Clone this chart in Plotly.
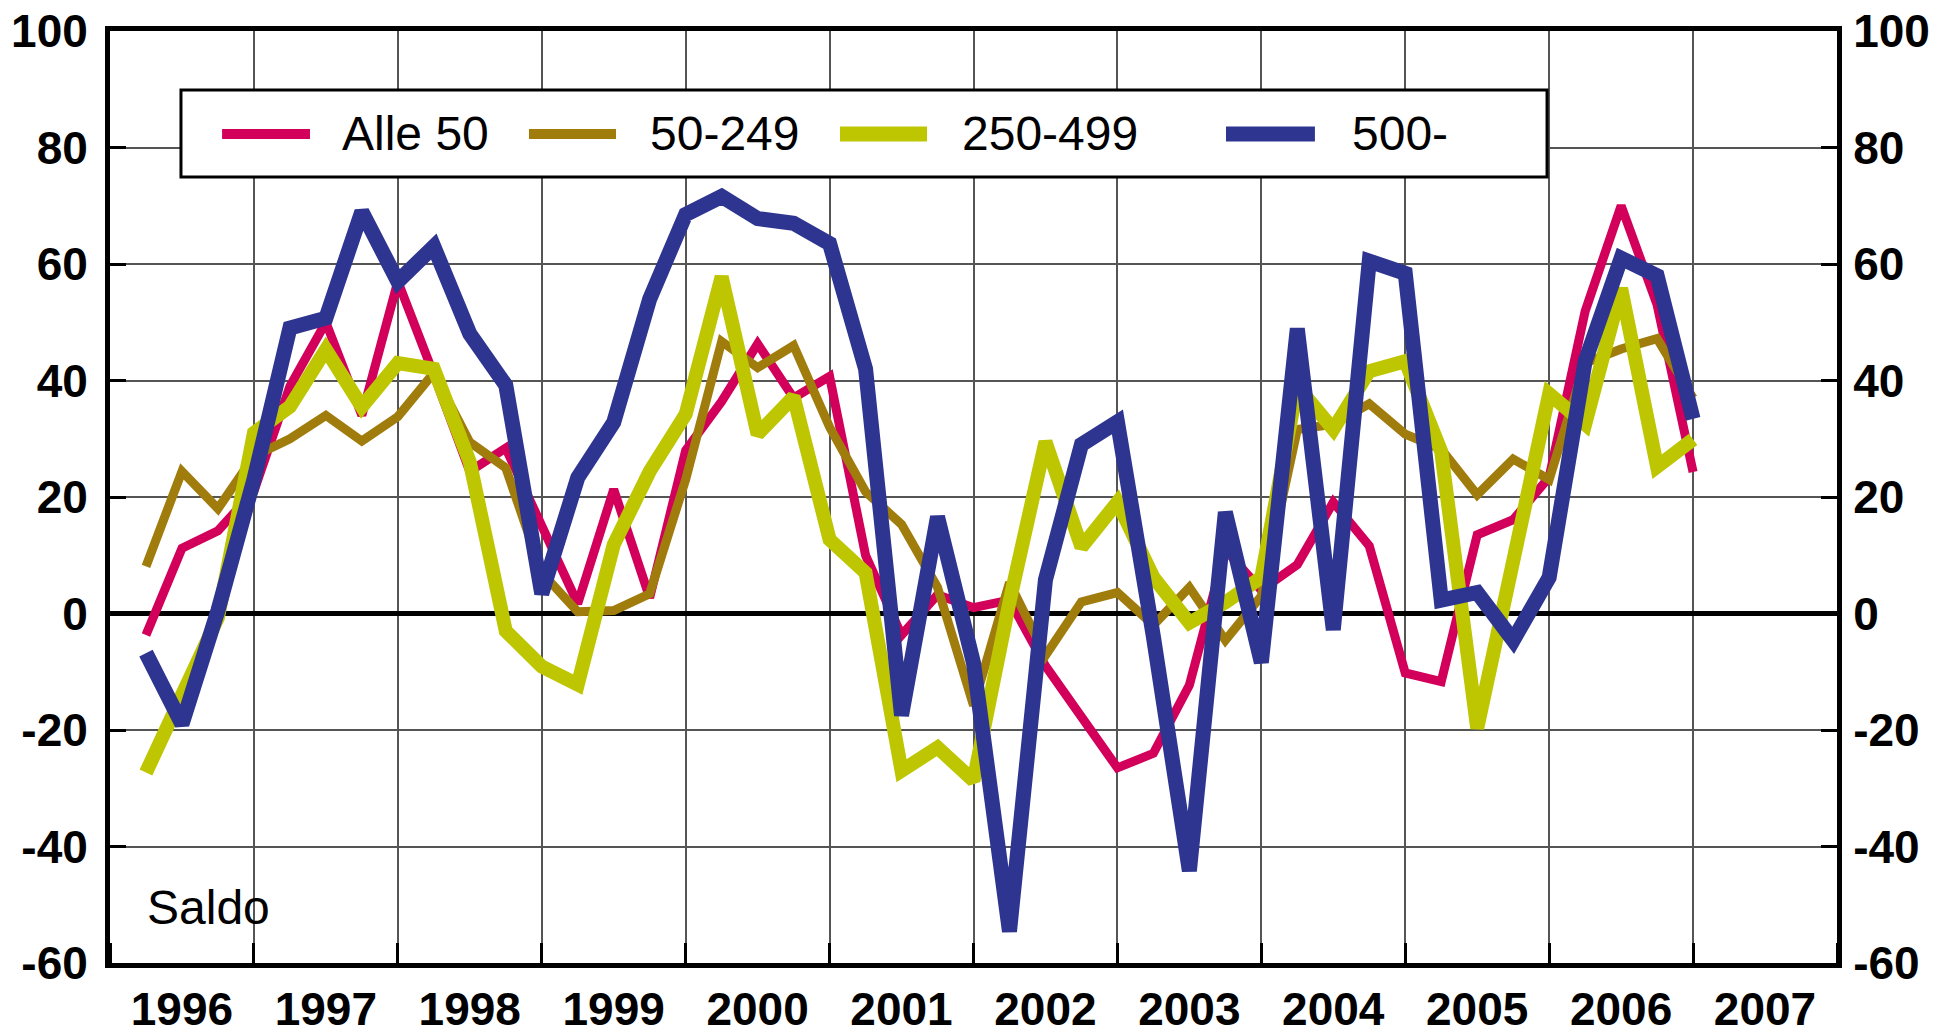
import plotly.graph_objects as go

# Quarterly periods 1996Q1 .. 2006Q4 (plotted at quarter end)
years = [1996, 1997, 1998, 1999, 2000, 2001, 2002, 2003, 2004, 2005, 2006]
quarters = [1, 2, 3, 4]

alle50 = [-3.7, 11.2, 14.2, 21.0,
          39.0, 50.0, 34.0, 57.0,
          41.0, 24.4, 28.4, 15.0,
          1.7, 21.3, 2.7, 28.0,
          36.4, 46.3, 37.0, 40.7,
          10.0, -3.7, 3.2, 1.0,
          2.3, -9.0, -17.5, -26.5,
          -24.0, -12.3, 11.0, 4.0,
          8.4, 19.1, 11.6, -10.2,
          -11.7, 13.5, 16.1, 23.4,
          51.9, 70.0, 53.0, 24.3]

s50_249 = [8.1, 24.4, 18.0, 27.0,
           30.0, 34.0, 29.6, 33.8,
           41.3, 29.4, 25.0, 7.0,
           0.3, 0.5, 3.4, 23.0,
           46.7, 42.2, 46.0, 32.0,
           20.9, 15.3, 4.5, -15.8,
           5.3, -7.2, 2.0, 3.6,
           -2.0, 4.5, -4.6, 3.0,
           31.6, 32.5, 36.0, 30.8,
           28.2, 20.4, 26.5, 23.0,
           43.0, 45.4, 47.2, 37.0]

s250_499 = [-27.3, -13.5, -0.7, 31.0,
            35.5, 45.3, 35.5, 43.0,
            42.0, 26.0, -3.0, -9.1,
            -12.2, 11.8, 24.4, 34.2,
            57.8, 30.8, 37.2, 12.7,
            7.0, -27.0, -23.0, -28.7,
            2.0, 29.5, 11.4, 19.1,
            6.2, -1.6, 1.9, 6.2,
            39.0, 31.6, 41.6, 43.3,
            27.8, -19.7, 9.0, 37.7,
            32.5, 55.8, 25.2, 29.9]

s500 = [-6.8, -19.0, 0.5, 23.0,
        49.0, 50.7, 69.0, 57.0,
        63.0, 48.0, 39.2, 3.4,
        23.3, 32.8, 54.0, 68.5,
        71.6, 67.8, 67.0, 63.5,
        42.0, -17.5, 16.6, -8.5,
        -54.6, 5.8, 29.0, 32.9,
        -4.0, -44.2, 17.4, -8.4,
        48.9, -2.8, 60.5, 58.4,
        2.3, 3.6, -4.6, 6.2,
        43.3, 61.0, 58.0, 33.4]

series_names = ["Alle 50", "50-249", "250-499", "500-"]
year_labels = ["1996", "1997", "1998", "1999", "2000", "2001", "2002",
               "2003", "2004", "2005", "2006", "2007"]
y_ticks = [-60, -40, -20, 0, 20, 40, 60, 80, 100]
y_ticktext = ["-60", "-40", "-20", "0", "20", "40", "60", "80", "100"]

# x position of each quarter (quarter end, fractional year)
xq = [y + q / 4 for y in years for q in quarters]

colors = ["#D2005A", "#A07C0C", "#BDC600", "#2E3591"]
widths = [9, 9, 14, 15]
data = [alle50, s50_249, s250_499, s500]

FONT = "Liberation Sans, Arial, sans-serif"

fig = go.Figure()
for name, vals, c, w in zip(series_names, data, colors, widths):
    fig.add_trace(go.Scatter(x=xq, y=vals, mode="lines", name=name,
                             line=dict(color=c, width=w),
                             showlegend=False))
# dummy trace to activate the right-hand axis
fig.add_trace(go.Scatter(x=[None], y=[None], yaxis="y2", showlegend=False,
                         hoverinfo="skip"))

# page body has an 8px default margin: compensate in figure size/margins
L, R, T, B = 102, 119, 23, 70
tickfont = dict(family=FONT, size=46, weight="bold", color="black")
fig.update_layout(
    width=1948, height=1025,
    margin=dict(l=L, r=R, t=T, b=B, autoexpand=False),
    paper_bgcolor="white", plot_bgcolor="white",
    font=dict(family=FONT, color="black"),
    xaxis=dict(
        range=[1996, 2008],
        tickvals=[1996.5 + i for i in range(len(year_labels))],
        ticktext=year_labels,
        ticks="", showgrid=False, zeroline=False, automargin=False,
        tickfont=tickfont, ticklabeloverflow="allow",
        showline=True, linewidth=5, linecolor="black", mirror=True,
        ticklabelstandoff=2,
        minor=dict(tickvals=list(range(1996, 2009)), showgrid=True,
                   gridcolor="#555555", gridwidth=1.5,
                   ticks="inside", ticklen=20, tickwidth=3, tickcolor="black"),
    ),
    yaxis=dict(
        range=[-60, 100], tickvals=y_ticks, ticktext=y_ticktext,
        ticks="inside", ticklen=16, tickwidth=3, tickcolor="black",
        showgrid=True, gridcolor="#555555", gridwidth=1.5,
        zeroline=True, zerolinecolor="black", zerolinewidth=5,
        showline=True, linewidth=5, linecolor="black", automargin=False,
        tickfont=tickfont, ticklabelstandoff=8, ticklabeloverflow="allow",
    ),
    yaxis2=dict(
        range=[-60, 100], tickvals=y_ticks, ticktext=y_ticktext,
        overlaying="y", side="right",
        ticks="inside", ticklen=16, tickwidth=3, tickcolor="black",
        showgrid=False, zeroline=False, automargin=False,
        showline=True, linewidth=5, linecolor="black",
        tickfont=tickfont, ticklabelstandoff=2, ticklabeloverflow="allow",
    ),
)

# Legend box (manual, to match the long sample lines)
fig.add_shape(type="rect", xref="paper", yref="paper",
              x0=0.0411, x1=0.8321, y0=0.8433, y1=0.9367,
              line=dict(color="black", width=3), fillcolor="white", layer="above")
leg_y = 0.8895
leg_x = [(0.0649, 0.1158, 0.1332), (0.2426, 0.2930, 0.3115),
         (0.4227, 0.4731, 0.4922), (0.6462, 0.6977, 0.7180)]
leg_w = [10, 10, 15, 15]
for (x0, x1, xt), name, c, w in zip(leg_x, series_names, colors, leg_w):
    fig.add_shape(type="line", xref="paper", yref="paper",
                  x0=x0, x1=x1, y0=leg_y, y1=leg_y,
                  line=dict(color=c, width=w), layer="above")
    fig.add_annotation(xref="paper", yref="paper", x=xt, y=leg_y,
                       text=name, showarrow=False, xanchor="left", yanchor="middle",
                       font=dict(family=FONT, size=48, color="black"))

fig.add_annotation(xref="x", yref="y", x=1996.24, y=-50.5, text="Saldo",
                   showarrow=False, xanchor="left", yanchor="middle",
                   font=dict(family=FONT, size=48, color="black"))

fig.write_html("out.html")
